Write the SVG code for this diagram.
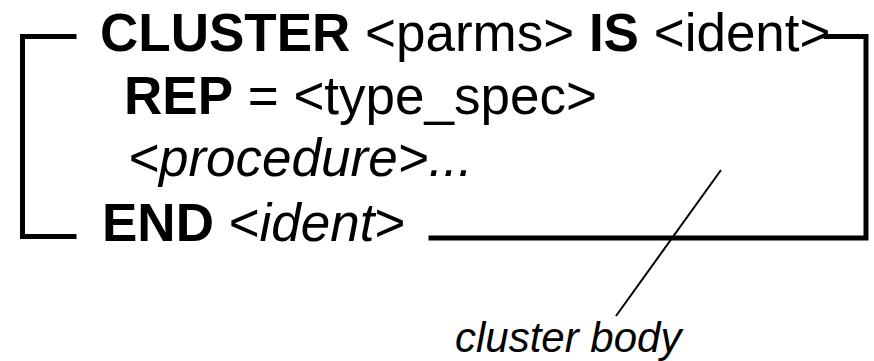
<svg xmlns="http://www.w3.org/2000/svg" width="874" height="361" viewBox="0 0 874 361">
<style>
text{font-family:"Liberation Sans",Arial,sans-serif;fill:#000}
.main{font-size:53px}
.b{font-weight:bold}
.i{font-style:italic}
.br{fill:none;stroke:#000;stroke-width:5;stroke-linecap:square;stroke-linejoin:miter}
.ld{fill:none;stroke:#000;stroke-width:2}
</style>
<rect width="874" height="361" fill="#fff"/>
<g id="code">
<text class="main" x="100" y="51"><tspan class="b">CLUSTER</tspan> &lt;parms&gt; <tspan class="b">IS</tspan> &lt;ident&gt;</text>
<text class="main" x="124" y="114"><tspan class="b">REP</tspan> = &lt;type_spec&gt;</text>
<text class="main i" x="128" y="176">&lt;procedure&gt;...</text>
<text class="main" x="102" y="241"><tspan class="b">END</tspan> &lt;<tspan class="i">ident</tspan>&gt;</text>
</g>
<g id="bracket">
<path class="br" d="M74 36.5 H22.5 V236.5 H74"/>
<path class="br" d="M826 36.5 H866 V238 H431"/>
</g>
<g id="label">
<text x="455" y="352" font-size="42" class="i">cluster body</text>
</g>
<g id="connectors">
<line class="ld" x1="721" y1="170" x2="616" y2="316"/>
</g>
</svg>
